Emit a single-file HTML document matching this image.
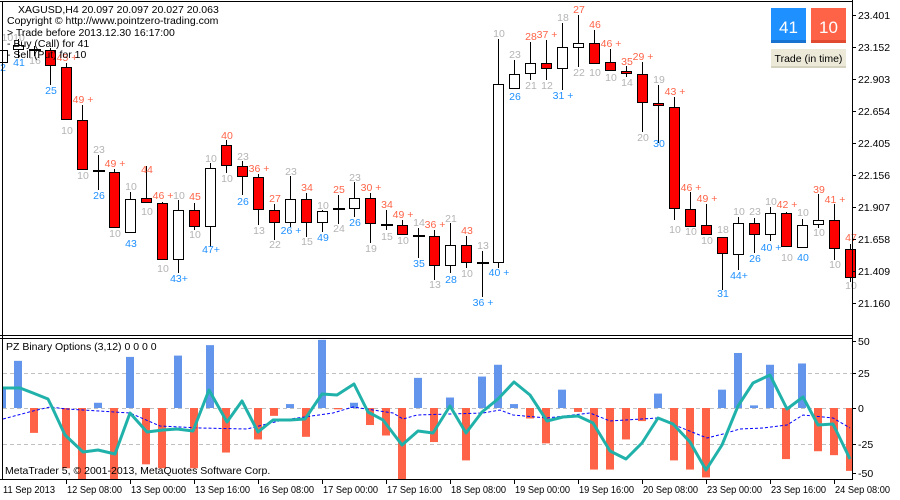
<!DOCTYPE html>
<html><head><meta charset="utf-8"><style>
html,body{margin:0;padding:0;background:#fff;width:900px;height:500px;overflow:hidden}
svg{display:block;font-family:"Liberation Sans","DejaVu Sans",sans-serif}
</style></head><body>
<svg id="s" width="900" height="500" viewBox="0 0 900 500" xmlns="http://www.w3.org/2000/svg">
<rect width="900" height="500" fill="#fff"/>
<g id="g"></g>
<line x1="2.5" y1="1" x2="2.5" y2="479" stroke="#000"/>
<line x1="0" y1="1.5" x2="852" y2="1.5" stroke="#000"/>
<line x1="0" y1="335.5" x2="852" y2="335.5" stroke="#000"/>
<line x1="0" y1="338.5" x2="852" y2="338.5" stroke="#000"/>
<line x1="852.5" y1="0" x2="852.5" y2="480" stroke="#000"/>
<line x1="0" y1="479.5" x2="853" y2="479.5" stroke="#000"/>
<g font-size="10.5" fill="#000">
<text x="18" y="13">XAGUSD,H4  20.097 20.097 20.027 20.063</text>
<text x="7" y="24">Copyright © http://www.pointzero-trading.com</text>
<text x="7" y="36">&gt; Trade before 2013.12.30 16:17:00</text>
<text x="7" y="47">- Buy (Call) for 41</text>
<text x="7" y="58">- Sell (Put) for 10</text>
<text x="6" y="350">PZ Binary Options (3,12) 0 0 0 0</text>
<text x="5" y="474">MetaTrader 5, © 2001-2013, MetaQuotes Software Corp.</text>
</g>
<rect x="771" y="8" width="35" height="35" fill="#1e90ff"/>
<rect x="771" y="40" width="35" height="3" fill="#1873d0"/>
<text x="788.5" y="33" font-size="17" fill="#fff" text-anchor="middle">41</text>
<rect x="811" y="8" width="35" height="35" fill="#ff6347"/>
<rect x="811" y="40" width="35" height="3" fill="#e04a30"/>
<text x="828.5" y="33" font-size="17" fill="#fff" text-anchor="middle">10</text>
<rect x="771" y="49" width="75" height="19" fill="#ece9d8"/>
<rect x="771" y="66" width="75" height="2" fill="#d6d2c0"/>
<text x="808.5" y="62" font-size="10.5" fill="#000" text-anchor="middle">Trade (in time)</text>
</svg>
<script>
var g=document.getElementById('g');var h='';
function L(x1,y1,x2,y2,c,w,d){h+='<line x1="'+x1+'" y1="'+y1+'" x2="'+x2+'" y2="'+y2+'" stroke="'+c+'" stroke-width="'+(w||1)+'"'+(d?' stroke-dasharray="'+d+'"':'')+'/>';}
function T(x,y,t,c,s,a){h+='<text x="'+x+'" y="'+y+'" fill="'+c+'" font-size="'+(s||10.5)+'"'+(a?' text-anchor="'+a+'"':'')+'>'+t+'</text>';}
var R='#ff0000',G='#b4b4b4',B='#1e90ff',O='#ff6347';
var C=[
[0,'b',50,63,40,65,'7 10',G,37,'2',B,67],
[1,'b',45,50,39,58,'10',G,37,'41',B,62],
[2,'d',50,50,46,56,'',G,0,'16',G,60],
[3,'r',50,66,48,85,'',R,0,'25',B,90],
[4,'r',67,120,63,120,'45 +',O,57,'10',G,130],
[5,'r',120,170,105,170,'49 +',O,99,'10',G,175],
[6,'d',171,171,155,190,'23',G,149,'26',B,195],
[7,'r',172,228,169,228,'49 +',O,163,'10',G,233],
[8,'b',199,233,192,233,'10',G,186,'43',B,243],
[9,'r',198,203,166,203,'44',O,169,'10',G,211],
[10,'r',203,260,202,260,'46 +',O,195,'10',G,268],
[11,'b',210,260,200,273,'10',G,195,'43+',B,278],
[12,'r',210,227,203,230,'45',O,196,'10',G,234],
[13,'b',168,227,163,247,'10',G,158,'47+',B,249],
[14,'r',145,166,140,173,'40',O,135,'10',G,178],
[15,'r',166,177,161,195,'23',G,156,'26',B,201],
[16,'r',177,210,174,225,'36 +',O,168,'13',G,230],
[17,'r',210,223,204,240,'27',O,198,'22',G,244],
[18,'b',199,223,176,227,'23',G,171,'26 +',B,230],
[19,'r',199,223,193,237,'34',O,187,'15',G,241],
[20,'b',211,223,210,232,'10',G,205,'49',B,237],
[21,'d',209,209,195,224,'25',O,189,'24',G,228],
[22,'b',198,209,182,217,'23',G,177,'26',B,222],
[23,'r',198,224,193,243,'30 +',O,187,'19',G,248],
[24,'d',225,225,210,230,'34',O,204,'15',G,236],
[25,'r',225,235,220,235,'49 +',O,214,'10',G,240],
[26,'d',236,236,228,258,'14',G,222,'35',B,263],
[27,'r',236,266,230,280,'36 +',O,224,'13',G,284],
[28,'b',245,266,223,273,'21',G,218,'28',B,279],
[29,'r',245,263,236,268,'43',O,230,'10',G,273],
[30,'d',263,263,251,297,'13',G,245,'36 +',B,302],
[31,'b',84,263,39,268,'10',G,33,'40 +',B,272],
[32,'b',74,89,60,89,'23',G,54,'26',B,96],
[33,'b',63,74,42,80,'28',O,36,'21',G,85],
[34,'r',63,69,40,80,'37 +',O,34,'12',G,85],
[35,'b',47,69,23,90,'18',G,17,'31 +',B,95],
[36,'b',43,48,15,67,'27',O,9,'22',G,72],
[37,'r',43,64,30,64,'46',O,24,'10',G,72],
[38,'r',62,71,49,71,'46 +',O,43,'10',G,77],
[39,'r',71,74,66,77,'35',O,61,'14',G,82],
[40,'r',74,103,62,132,'29 +',O,56,'20',G,137],
[41,'r',103,106,85,143,'19',G,79,'30',B,143],
[42,'r',107,209,97,220,'43 +',O,91,'10',G,229],
[43,'r',209,227,192,227,'46 +',O,187,'10',G,231],
[44,'r',225,235,204,235,'49 +',O,198,'10',G,240],
[45,'r',237,254,237,290,'18',G,229,'31',B,293],
[46,'b',223,255,217,270,'10',G,211,'44+',B,275],
[47,'r',223,235,218,253,'23',G,211,'26',B,258],
[48,'b',213,235,207,241,'10',G,201,'40 +',B,247],
[49,'r',213,247,212,247,'42 +',O,204,'10',G,257],
[50,'b',225,248,219,248,'10',G,212,'40',B,257],
[51,'b',220,225,194,228,'39',O,189,'10',G,232],
[52,'r',220,249,204,260,'41 +',O,199,'10',G,264],
[53,'r',249,278,244,282,'47',O,237,'10',G,285]
];
C.forEach(function(c){var x=2+16*c[0];
 L(x+.5,c[4],x+.5,c[5],'#000',1);
 if(c[1]=='d'){h+='<rect x="'+(x-5)+'" y="'+(c[2]-1)+'" width="12" height="2" fill="#000"/>';}
 else{var hh=Math.max(c[3]-c[2],2);h+='<rect x="'+(x-4.5)+'" y="'+(c[2]+.5)+'" width="10" height="'+(hh-1)+'" fill="'+(c[1]=='r'?R:'#fff')+'" stroke="#000"/>';}
 if(c[6])T(x+1,c[8]+4,c[6],c[7],10.5,'middle');
 if(c[9])T(x+1,c[11]+4,c[9],c[10],10.5,'middle');
});
var P=[['23.401',15],['23.152',47],['22.903',79],['22.654',111],['22.405',143],['22.156',175],['21.907',207],['21.658',239],['21.409',271],['21.160',303]];
P.forEach(function(p){L(852,p[1]+.5,856,p[1]+.5,'#000');T(858,p[1]+4,p[0],'#000',10.5);});
function Y(v){return 408-v*1.31;}
L(3,373.5,852,373.5,'#c0c0c0',1,'4,3');L(3,408.5,852,408.5,'#c0c0c0',1,'4,3');L(3,444.5,852,444.5,'#c0c0c0',1,'4,3');
var V=[16,36,-19,0,-46,-55,4,-55,39,-43,-46,40,-46,48,-34,0,-24,-6,3,-22,52,-1,4,-13,-21,-55,23,-26,8,-40,24,33,3,-8,-27,14,-3,-47,-47,-24,-10,11,-40,-47,-53,14,42,2,33,-39,34,-33,-36,-48];
V.forEach(function(v,i){if(!v)return;var x=2+16*i-4,w=8;if(x<3){w-=3-x;x=3;}if(x+w>852)w=852-x;var y0=408,y1=Math.max(339,Math.min(479,Y(v)));
 h+='<rect x="'+x+'" y="'+Math.min(y0,y1)+'" width="'+w+'" height="'+Math.abs(y1-y0)+'" fill="'+(v>0?'#6495ed':'#ff6347')+'"/>';});
var blue=[[3,419],[33,411],[50,407],[67,409],[130,413],[160,426],[200,428],[247,429],[283,420],[333,413],[353,407],[393,413],[403,419],[417,415],[450,414],[483,413],[500,410],[513,415],[547,418],[590,413],[610,421],[657,418],[697,434],[707,438],[723,434],[740,429],[763,428],[787,425],[803,415],[833,418],[850,428]];
h+='<polyline fill="none" stroke="#0000ff" stroke-width="1" stroke-dasharray="3,2" points="'+blue.map(function(p){return p.join(',')}).join(' ')+'"/>';
var teal=[[3,388],[20,388],[33,393],[48,399],[52,407],[65,435],[83,452],[98,450],[115,454],[130,413],[147,432],[163,430],[177,429],[193,431],[209,390],[227,422],[242,401],[258,432],[273,420],[290,420],[305,419],[322,394],[337,395],[354,384],[368,412],[383,420],[402,445],[418,431],[433,433],[450,406],[466,433],[482,412],[498,399],[514,382],[530,395],[547,421],[563,417],[578,416],[593,423],[610,451],[626,459],[642,443],[658,418],[673,424],[690,442],[706,470],[722,445],[738,406],[753,383],[770,375],[787,409],[803,397],[818,425],[833,424],[850,459]];
h+='<polyline fill="none" stroke="#20b2aa" stroke-width="3" stroke-linejoin="round" points="'+teal.map(function(p){return p.join(',')}).join(' ')+'"/>';
var IA=[['50',341],['25',373],['0',408],['-25',444],['-50',473]];
IA.forEach(function(p){L(852,p[1]+.5,856,p[1]+.5,'#000');T(858,p[1]+4,p[0],'#000',10.5);});
var TA=['11 Sep 2013','12 Sep 08:00','13 Sep 00:00','13 Sep 16:00','16 Sep 08:00','17 Sep 00:00','17 Sep 16:00','18 Sep 08:00','19 Sep 00:00','19 Sep 16:00','20 Sep 08:00','23 Sep 00:00','23 Sep 16:00','24 Sep 08:00'];
TA.forEach(function(t,i){var x=2+64*i;if(i>0)L(x+.5,479,x+.5,484,'#000');h+='<text x="'+(x+1)+'" y="493" fill="#000" font-size="10" textLength="'+(i==0?52:55)+'" lengthAdjust="spacingAndGlyphs">'+t+'</text>';});
g.innerHTML=h;
</script>
</body></html>
